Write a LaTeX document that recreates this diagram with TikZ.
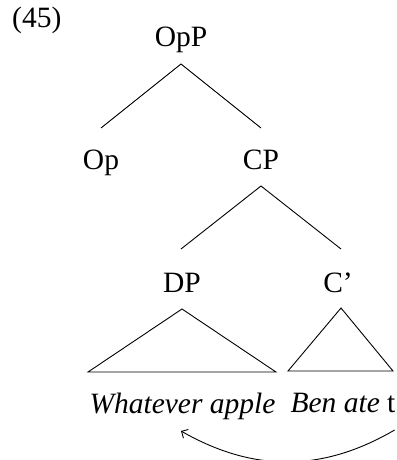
\documentclass[tikz,border=0pt]{standalone}
\usepackage{fontspec}
\setmainfont{Liberation Serif}
\usetikzlibrary{arrows.meta}
\begin{document}
\begin{tikzpicture}[x=1pt,y=-1pt,
  lbl/.style={inner sep=0pt, anchor=base, font=\fontsize{29.5}{35}\selectfont},
  edge/.style={line width=0.9pt, line join=miter},
  ]
\useasboundingbox (0,0) rectangle (396,460);
\node[lbl, anchor=base west] (num) at (12,28) {(45)};
\node[lbl] (OpP) at (181,47) {OpP};
\node[lbl] (Op) at (101,169) {Op};
\node[lbl] (CP) at (261,169) {CP};
\node[lbl] (DP) at (182,292) {DP};
\node[lbl] (Cb) at (338,292) {C’};
\node[lbl] (WA) at (182.5,413) {\itshape Whatever apple};
\node[lbl] (BA) at (343,412) {\textit{Ben ate} t};
% branches
\draw[edge] ([yshift=41pt]Op.base) -- ([yshift=-17pt]OpP.base) -- ([yshift=41pt]CP.base);
\draw[edge] ([xshift=-1pt,yshift=43pt]DP.base) -- ([yshift=-17pt]CP.base) -- ([xshift=3pt,yshift=43pt]Cb.base);
% triangles
\coordinate (dpL) at (88,372);
\coordinate (dpR) at (276,372);
\coordinate (cbL) at (288,371);
\coordinate (cbR) at (393,371);
\draw[edge] ([yshift=-17pt]DP.base) -- (dpR) -- (dpL) -- cycle;
\draw[edge] ([xshift=3pt,yshift=-16pt]Cb.base) -- (cbR) -- (cbL) -- cycle;
% movement arrow
\draw[edge, -{Straight Barb[length=5pt,width=10pt]}] ([xshift=-1pt,yshift=-18pt]BA.base east) to[bend left=30] ([xshift=-1.5pt,yshift=-18pt]WA.base);
\end{tikzpicture}
\end{document}
